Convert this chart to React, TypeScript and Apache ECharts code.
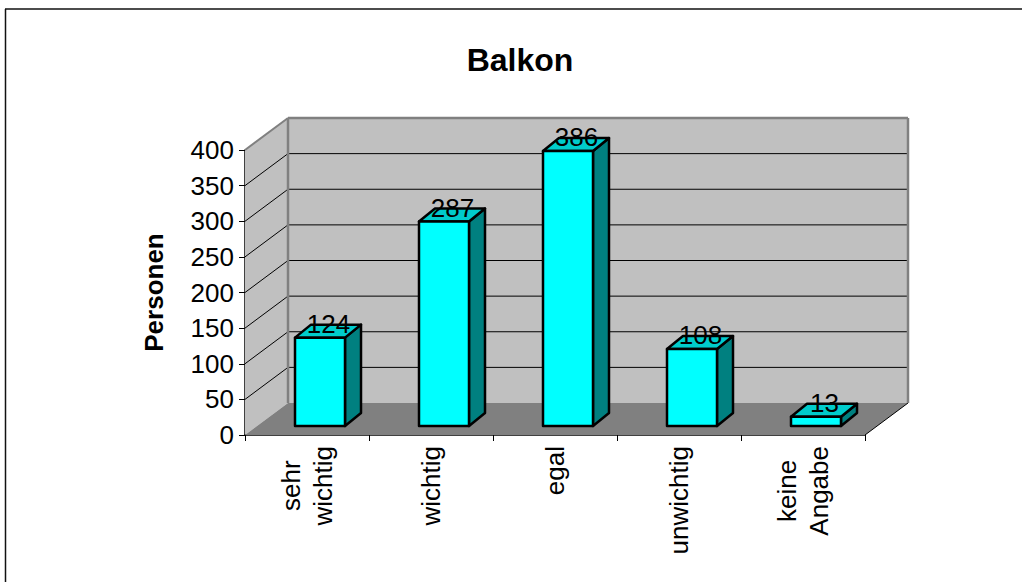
import React, { useEffect, useRef } from "react";
import * as echarts from "echarts";

const titleText = "Balkon";
const yAxisTitle = "Personen";
const categories = ["sehr\nwichtig", "wichtig", "egal", "unwichtig", "keine\nAngabe"];
const personValues = [124, 287, 386, 108, 13];
const yTicks = [0, 50, 100, 150, 200, 250, 300, 350, 400];

const FONT = '"Liberation Sans", Arial, Helvetica, sans-serif';
const WALL_DX = 43;
const WALL_DY = -32;
const BAR_OFFSET_X = 13;
const BAR_OFFSET_Y = -9;
const BAR_DX = 16;
const BAR_DY = -13;
const BAR_WIDTH_RATIO = 50 / 124;
const LABEL_TOP = 446;
const FONT_SIZE = 26;

function measure(text: string): number {
  const ctx = document.createElement("canvas").getContext("2d")!;
  ctx.font = `${FONT_SIZE}px "Liberation Sans"`;
  return Math.max(...text.split("\n").map((s) => ctx.measureText(s).width));
}

const poly = (points: number[][], fill: string, stroke?: string, lineWidth = 1) => ({
  type: "polygon",
  shape: { points },
  style: { fill, stroke: stroke ?? "none", lineWidth, lineJoin: "round" },
});
const seg = (a: number[], b: number[], stroke: string, lineWidth = 1) => ({
  type: "line",
  shape: { x1: a[0], y1: a[1], x2: b[0], y2: b[1] },
  style: { stroke, lineWidth },
});

export default function App() {
  const ref = useRef<HTMLDivElement>(null);
  useEffect(() => {
    const chart = echarts.init(ref.current!, null, { renderer: "svg" });
    chart.setOption({
      animation: false,
      backgroundColor: "#ffffff",
      textStyle: { fontFamily: FONT },
      title: {
        text: titleText,
        left: 515,
        top: 39,
        textAlign: "center",
        textStyle: { fontFamily: FONT, fontSize: 32, fontWeight: "bold", color: "#000" },
      },
      graphic: [
        { type: "line", shape: { x1: 5.5, y1: 9, x2: 5.5, y2: 582 }, style: { stroke: "#111", lineWidth: 1.5 } },
        { type: "line", shape: { x1: 5, y1: 9, x2: 1022, y2: 9 }, style: { stroke: "#111", lineWidth: 1.5 } },
      ],
      grid: { left: 245, top: 150, width: 620, height: 285, containLabel: false, outerBoundsMode: "none" },
      xAxis: {
        type: "category",
        data: categories,
        axisLine: { lineStyle: { color: "#000", width: 1.5 } },
        axisTick: { show: true, length: 6, lineStyle: { color: "#000" } },
        axisLabel: { show: false },
        splitLine: { show: false },
      },
      yAxis: {
        type: "value",
        min: 0,
        max: 400,
        interval: 50,
        name: yAxisTitle,
        nameLocation: "middle",
        nameGap: 78,
        nameRotate: 90,
        nameTextStyle: { fontFamily: FONT, fontSize: FONT_SIZE, fontWeight: "bold", color: "#000" },
        axisLine: { show: true, lineStyle: { color: "#000", width: 1.5 } },
        axisTick: { show: true, length: 6, lineStyle: { color: "#000" } },
        axisLabel: { margin: 11, fontFamily: FONT, fontSize: FONT_SIZE, color: "#000" },
        splitLine: { show: false },
      },
      series: [
        {
          type: "custom",
          name: "walls",
          silent: true,
          z: 1,
          data: [[0, 0]],
          renderItem: (p: any, api: any) => {
            const cs = p.coordSys;
            const L = cs.x, R = cs.x + cs.width, T = cs.y, B = cs.y + cs.height;
            return {
              type: "group",
              children: [
                poly([[L + WALL_DX, T + WALL_DY], [R + WALL_DX, T + WALL_DY], [R + WALL_DX, B + WALL_DY], [L + WALL_DX, B + WALL_DY]], "#c0c0c0"),
                poly([[L, T], [L + WALL_DX, T + WALL_DY], [L + WALL_DX, B + WALL_DY], [L, B]], "#c0c0c0"),
                poly([[L, B], [L + WALL_DX, B + WALL_DY], [R + WALL_DX, B + WALL_DY], [R, B]], "#808080"),
              ],
            };
          },
        },
        {
          type: "custom",
          name: "gridlines",
          silent: true,
          z: 2,
          data: yTicks.map((t) => [0, t]),
          encode: { x: 0, y: 1 },
          renderItem: (p: any, api: any) => {
            const cs = p.coordSys;
            const L = cs.x, R = cs.x + cs.width;
            const y = api.coord([0, api.value(1)])[1];
            const v = api.value(1);
            if (v === 0) {
              return {
                type: "group",
                children: [seg([R, y], [R + WALL_DX, y + WALL_DY], "#000", 1)],
              };
            }
            if (v === 400) {
              return {
                type: "group",
                children: [
                  seg([L, y], [L + WALL_DX, y + WALL_DY], "#808080", 2),
                  seg([L + WALL_DX, y + WALL_DY], [R + WALL_DX, y + WALL_DY], "#808080", 2.5),
                  seg([L + WALL_DX, y + WALL_DY], [L + WALL_DX, cs.y + cs.height + WALL_DY], "#808080", 2.5),
                  seg([R + WALL_DX, y + WALL_DY], [R + WALL_DX, cs.y + cs.height + WALL_DY], "#808080", 2.5),
                ],
              };
            }
            return {
              type: "group",
              children: [
                seg([L, y], [L + WALL_DX, y + WALL_DY], "#000", 1),
                seg([L + WALL_DX, y + WALL_DY], [R + WALL_DX, y + WALL_DY], "#000", 1),
              ],
            };
          },
        },
        {
          type: "custom",
          name: "Personen",
          silent: true,
          z: 3,
          data: personValues.map((v, i) => [i, v]),
          encode: { x: 0, y: 1 },
          renderItem: (p: any, api: any) => {
            const i = api.value(0);
            const v = api.value(1);
            const band = api.size([1, 0])[0];
            const w = band * BAR_WIDTH_RATIO;
            const base = api.coord([i, 0]);
            const top = api.coord([i, v]);
            const x0 = base[0] - w / 2 + BAR_OFFSET_X;
            const x1 = x0 + w;
            const yb = base[1] + BAR_OFFSET_Y;
            const yt = top[1] + BAR_OFFSET_Y;
            return {
              type: "group",
              children: [
                poly([[x1, yt], [x1 + BAR_DX, yt + BAR_DY], [x1 + BAR_DX, yb + BAR_DY], [x1, yb]], "#008080", "#000", 2.5),
                poly([[x0, yt], [x0 + BAR_DX, yt + BAR_DY], [x1 + BAR_DX, yt + BAR_DY], [x1, yt]], "#00cccc", "#000", 2.5),
                poly([[x0, yt], [x1, yt], [x1, yb], [x0, yb]], "#00ffff", "#000", 2.5),
                {
                  type: "text",
                  x: (x0 + x1 + BAR_DX) / 2 + 0.5,
                  y: yt + BAR_DY - 1,
                  style: {
                    text: String(v),
                    fill: "#000",
                    font: `${FONT_SIZE}px ${FONT}`,
                    align: "center",
                    verticalAlign: "middle",
                  },
                },
              ],
            };
          },
        },
        {
          type: "custom",
          name: "categoryLabels",
          silent: true,
          z: 4,
          data: categories.map((_, i) => [i, 0]),
          encode: { x: 0, y: 1 },
          renderItem: (p: any, api: any) => {
            const i = api.value(0);
            const text = categories[i];
            const c = api.coord([i, 0]);
            return {
              type: "text",
              rotation: Math.PI / 2,
              x: c[0],
              y: LABEL_TOP + measure(text) / 2,
              style: {
                text,
                fill: "#000",
                font: `${FONT_SIZE}px ${FONT}`,
                align: "center",
                verticalAlign: "middle",
                lineHeight: 32,
              },
            };
          },
        },
      ],
    });
    return () => chart.dispose();
  }, []);
  return <div ref={ref} style={{ position: "absolute", left: 0, top: 0, width: 1022, height: 582 }} />;
}
